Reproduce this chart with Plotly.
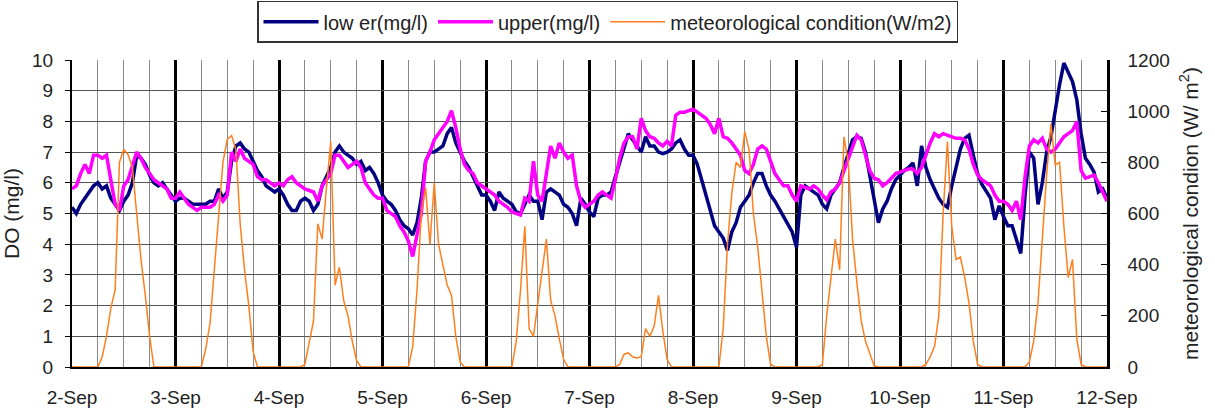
import plotly.graph_objects as go
import pandas as pd

# Hourly readings, 2-Sep 00:00 to 12-Sep 00:00
lower_do = [
    5.2, 5.0, 5.3, 5.5, 5.7, 5.9, 6.0, 5.8, 5.9, 5.5, 5.3, 5.1, 5.4, 5.6, 6.0, 6.9, 6.8, 6.6, 6.25, 6.0, 5.9, 6.0, 5.8, 5.6,
    5.4, 5.5, 5.5, 5.4, 5.3, 5.3, 5.3, 5.3, 5.4, 5.4, 5.8, 5.5, 5.7, 6.7, 7.2, 7.3, 7.1, 7.0, 6.7, 6.4, 6.2, 5.9, 5.8, 5.7,
    5.8, 5.6, 5.3, 5.1, 5.1, 5.4, 5.5, 5.4, 5.1, 5.3, 5.9, 6.2, 6.5, 7.0, 7.2, 7.0, 6.9, 6.8, 6.6, 6.7, 6.4, 6.5, 6.3, 6.0,
    5.6, 5.4, 5.3, 5.1, 4.8, 4.6, 4.5, 4.3, 4.7, 5.5, 6.7, 7.0, 7.0, 7.1, 7.2, 7.6, 7.8, 7.3, 7.0, 6.7, 6.5, 6.2, 5.9, 5.6,
    5.6, 5.4, 5.1, 5.7, 5.5, 5.4, 5.3, 5.05, 5.0, 5.3, 5.6, 5.4, 5.4, 4.8, 5.7, 5.8, 5.7, 5.6, 5.3, 5.2, 5.0, 4.6, 5.5, 5.3,
    5.05, 4.9, 5.5, 5.6, 5.6, 5.7, 6.2, 6.7, 7.2, 7.6, 7.4, 7.2, 7.0, 7.5, 7.2, 7.2, 7.0, 6.95, 7.0, 7.1, 7.3, 7.4, 7.1, 6.9,
    6.9, 6.6, 6.1, 5.6, 5.0, 4.6, 4.4, 4.2, 3.8, 4.4, 4.7, 5.2, 5.4, 5.6, 6.0, 6.3, 6.3, 5.9, 5.6, 5.4, 5.15, 4.9, 4.7, 4.4,
    3.9, 5.6, 5.9, 5.8, 5.7, 5.6, 5.3, 5.15, 5.6, 5.8, 6.0, 6.5, 7.0, 7.4, 7.5, 7.45, 7.0, 6.2, 5.4, 4.7, 5.15, 5.4, 5.8, 6.1,
    6.25, 6.4, 6.5, 6.65, 5.9, 7.2, 6.5, 6.1, 5.8, 5.5, 5.3, 5.2, 5.9, 6.5, 7.1, 7.45, 7.55, 6.9, 6.3, 5.95, 5.7, 5.5, 4.8, 5.25,
    4.9, 4.6, 4.6, 4.1, 3.7, 5.6, 7.0, 6.8, 5.3, 6.0, 7.0, 7.5, 8.4, 9.2, 9.9, 9.6, 9.3, 8.7, 7.6, 6.8, 6.6, 6.35, 5.7, 5.8,
    5.5,
]

upper_do = [
    5.8, 5.9, 6.3, 6.6, 6.3, 6.9, 6.9, 6.8, 6.9, 6.1, 5.3, 5.1, 5.9, 6.1, 6.6, 7.0, 6.8, 6.5, 6.3, 6.1, 6.0, 5.9, 5.8, 5.5,
    5.5, 5.7, 5.5, 5.3, 5.2, 5.1, 5.2, 5.2, 5.2, 5.3, 5.6, 5.4, 5.6, 7.0, 6.7, 7.1, 6.8, 6.7, 6.6, 6.2, 6.1, 6.1, 6.0, 5.9,
    6.0, 5.9, 6.1, 6.2, 6.0, 5.9, 5.8, 5.75, 5.7, 5.4, 5.9, 6.1, 6.3, 6.9, 6.9, 6.7, 6.5, 6.6, 6.7, 6.5, 6.0, 5.8, 5.6, 5.5,
    5.5, 5.1, 5.0, 4.9, 4.6, 4.4, 4.1, 3.6, 4.3, 5.0, 6.7, 7.0, 7.4, 7.6, 7.8, 8.0, 8.35, 7.8, 7.1, 6.6, 6.4, 6.3, 6.0, 5.9,
    5.8, 5.7, 5.6, 5.4, 5.3, 5.2, 5.05, 5.0, 4.95, 5.5, 5.4, 6.7, 5.6, 5.4, 6.4, 7.2, 6.8, 7.3, 7.0, 6.8, 6.9, 5.9, 5.4, 5.2,
    5.3, 5.4, 5.6, 5.7, 5.6, 5.5, 6.1, 6.8, 7.3, 7.5, 7.5, 7.1, 8.1, 7.7, 7.5, 7.45, 7.3, 7.2, 7.35, 7.2, 8.2, 8.3, 8.3, 8.35,
    8.4, 8.3, 8.2, 8.1, 7.9, 7.6, 8.1, 7.5, 7.45, 7.3, 7.1, 6.9, 6.4, 6.3, 6.6, 7.1, 7.2, 7.1, 6.7, 6.3, 6.1, 5.9, 5.9, 5.6,
    5.4, 5.9, 5.85, 5.8, 5.9, 5.8, 5.6, 5.45, 5.7, 5.8, 6.0, 6.4, 6.8, 7.2, 7.55, 7.4, 6.9, 6.4, 6.15, 6.1, 5.9, 6.0, 6.15, 6.3,
    6.35, 6.4, 6.45, 6.45, 6.3, 6.5, 6.9, 7.3, 7.6, 7.5, 7.6, 7.55, 7.5, 7.45, 7.45, 7.4, 7.1, 6.6, 6.25, 6.1, 6.0, 5.9, 5.6, 5.4,
    5.4, 5.3, 5.1, 5.4, 4.8, 6.2, 7.2, 7.4, 7.3, 7.45, 7.1, 7.0, 7.1, 7.3, 7.5, 7.6, 7.7, 8.0, 6.4, 6.15, 6.2, 6.25, 6.0, 5.7,
    5.4,
]

solar_wm2 = [
    0, 0, 0, 0, 0, 0, 0, 40, 120, 230, 300, 800, 850, 830, 780, 600, 420, 280, 120, 0, 0, 0, 0, 0,
    0, 0, 0, 0, 0, 0, 0, 70, 170, 380, 590, 800, 890, 905, 850, 560, 380, 240, 60, 0, 0, 0, 0, 0,
    0, 0, 0, 0, 0, 0, 10, 90, 180, 560, 500, 700, 880, 320, 390, 260, 200, 100, 25, 0, 0, 0, 0, 0,
    0, 0, 0, 0, 0, 0, 0, 80, 300, 600, 700, 480, 720, 480, 400, 320, 280, 120, 20, 0, 0, 0, 0, 0,
    0, 0, 0, 0, 0, 0, 0, 100, 300, 550, 150, 120, 250, 380, 500, 260, 200, 110, 30, 0, 0, 0, 0, 0,
    0, 0, 0, 0, 0, 0, 0, 10, 50, 55, 40, 35, 40, 150, 120, 160, 280, 140, 30, 0, 0, 0, 0, 0,
    0, 0, 0, 0, 0, 0, 0, 150, 480, 680, 800, 780, 920, 850, 600, 470, 300, 120, 10, 0, 0, 0, 0, 0,
    0, 0, 0, 0, 0, 0, 10, 200, 350, 500, 380, 900, 800, 500, 330, 180, 100, 50, 5, 0, 0, 0, 0, 0,
    0, 0, 0, 0, 0, 0, 10, 40, 80, 200, 600, 880, 550, 420, 430, 350, 250, 100, 10, 0, 0, 0, 0, 0,
    0, 0, 0, 0, 0, 0, 20, 100, 250, 500, 750, 950, 790, 800, 550, 350, 420, 110, 10, 0, 0, 0, 0, 0,
    0,
]

times = pd.date_range("2007-09-02 00:00", periods=len(lower_do), freq="h")

FONT = "Liberation Sans, Arial, sans-serif"
fig = go.Figure()
fig.add_trace(go.Scatter(x=times, y=lower_do, mode="lines", name="low er(mg/l)",
                         line=dict(color="#000080", width=3.5)))
fig.add_trace(go.Scatter(x=times, y=upper_do, mode="lines", name="upper(mg/l)",
                         line=dict(color="#FF00FF", width=3.5)))
fig.add_trace(go.Scatter(x=times, y=solar_wm2, mode="lines", name="meteorological condition(W/m2)",
                         line=dict(color="#FF7F1F", width=1.5), yaxis="y2"))

fig.update_layout(
    width=1215, height=412,
    margin=dict(l=72, r=108, t=60, b=45, autoexpand=False),
    paper_bgcolor="white", plot_bgcolor="white",
    font=dict(family=FONT, size=19, color="#222"),
    showlegend=True,
    legend=dict(orientation="h", xref="container", yref="container", x=0.5, xanchor="center",
                y=0.998, yanchor="top", bordercolor="#333", borderwidth=1.5,
                itemwidth=55, tracegroupgap=0,
                font=dict(family=FONT, size=20, color="#222"), bgcolor="white"),
    xaxis=dict(
        type="date",
        range=[times[0], times[-1]],
        tick0=times[0], dtick=86400000, tickformat="%-d-%b",
        showgrid=True, gridcolor="black", gridwidth=3,
        minor=dict(dtick=21600000, showgrid=True, gridcolor="#8a8a8a", gridwidth=1, ticks=""),
        showline=True, linecolor="black", linewidth=2,
        ticks="", ticklabelstandoff=12,
        zeroline=False, automargin=False,
    ),
    yaxis=dict(
        range=[0, 10], dtick=1,
        showgrid=True, gridcolor="#555", gridwidth=1,
        showline=True, linecolor="black", linewidth=2,
        ticks="outside", ticklen=5, tickcolor="black", ticklabelstandoff=8,
        zeroline=False, automargin=False,
        title=dict(text="DO (mg/l)", standoff=9, font=dict(size=21)),
    ),
    yaxis2=dict(
        range=[0, 1200], dtick=200, overlaying="y", side="right",
        showgrid=False, zeroline=False, automargin=False,
        showline=True, linecolor="black", linewidth=2.5,
        ticks="inside", ticklen=6, tickcolor="black", ticklabelstandoff=14,
        title=dict(text="meteorological condion (W/ m<sup>2</sup>)", standoff=15, font=dict(size=21)),
    ),
)

fig.write_html("out.html")
